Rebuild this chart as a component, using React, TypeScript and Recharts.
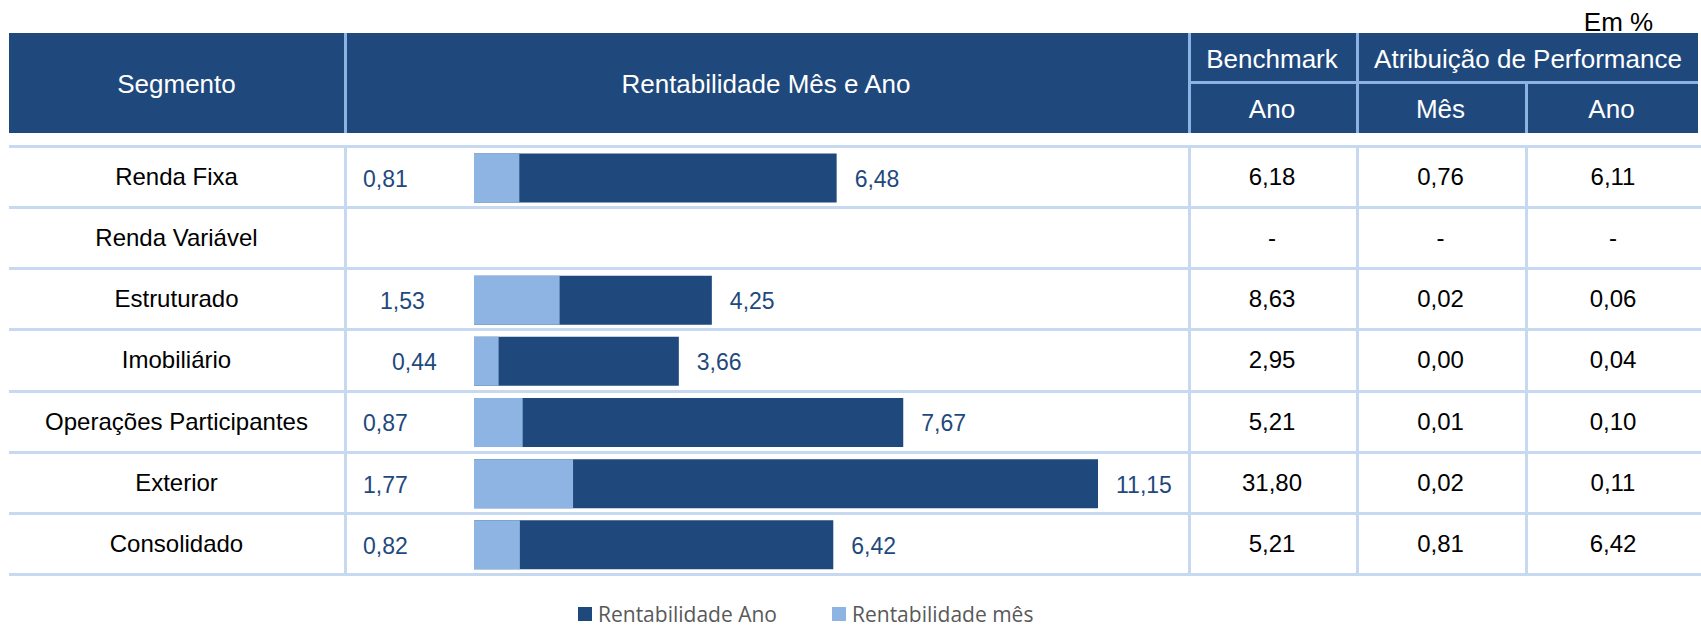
import React from 'react'
import { BarChart, Bar, XAxis, YAxis, Legend, LabelList } from 'recharts'

// segmentos e valores (em %)
const segmentos = ['Renda Fixa', 'Renda Variável', 'Estruturado', 'Imobiliário', 'Operações Participantes', 'Exterior', 'Consolidado']
const rentMes = [0.81, null, 1.53, 0.44, 0.87, 1.77, 0.82]
const rentAno = [6.48, null, 4.25, 3.66, 7.67, 11.15, 6.42]
const benchAno = ['6,18', '-', '8,63', '2,95', '5,21', '31,80', '5,21']
const atribMes = ['0,76', '-', '0,02', '0,00', '0,01', '0,02', '0,81']
const atribAno = ['6,11', '-', '0,06', '0,04', '0,10', '0,11', '6,42']

const data = segmentos.map((s, i) => ({ segmento: s, mes: rentMes[i], ano: rentAno[i] }))

const W = 1701
const H = 627
const ESCURO = '#1F497D'
const CLARO = '#8DB4E2'
const LINHA = '#C6D9F1'
const DIV_CAB = '#8DB3E2'
const FONTE = '"Liberation Sans", Arial, sans-serif'

const rowTop = 145
const rowStep = 61.14
const colX = [344, 1188, 1356, 1525]
// deslocamento do rótulo do mês, por linha
const mesNudge: Record<number, number> = { 2: 17, 3: 29 }

const fmt = (v: number) => v.toFixed(2).replace('.', ',')

function Txt({ left, right, cy, size, color, children }: any) {
  return (
    <div style={{ position: 'absolute', left, width: right - left, top: cy - 20, height: 40, display: 'flex', alignItems: 'center', justifyContent: 'center', fontSize: size, color, lineHeight: 1, whiteSpace: 'nowrap' }}>
      {children}
    </div>
  )
}

const mesLabel = (p: any) => {
  if (p.value == null) return null
  const x = p.x ?? p.viewBox?.x
  const y = p.y ?? p.viewBox?.y
  const h = p.height ?? p.viewBox?.height
  const row = Math.round((y + h / 2 - 178) / rowStep)
  return (
    <text x={x - 111 + (mesNudge[row] || 0)} y={y + h / 2 + 1} dominantBaseline="central" textAnchor="start" fontSize={23} fontFamily={FONTE} fill={ESCURO}>
      {fmt(p.value)}
    </text>
  )
}

const anoLabel = (p: any) => {
  if (p.value == null) return null
  const x = p.x ?? p.viewBox?.x
  const y = p.y ?? p.viewBox?.y
  const w = p.width ?? p.viewBox?.width
  const h = p.height ?? p.viewBox?.height
  return (
    <text x={x + w + 18} y={y + h / 2 + 1} dominantBaseline="central" textAnchor="start" fontSize={23} fontFamily={FONTE} fill={ESCURO}>
      {fmt(p.value)}
    </text>
  )
}

const legendX = [578, 832]
const renderLegend = ({ payload }: any) => (
  <div style={{ position: 'relative', width: W, height: 28 }}>
    {(payload || []).map((e: any, i: number) => (
      <div key={e.value} style={{ position: 'absolute', left: legendX[i], top: 0, height: 28, display: 'flex', alignItems: 'center' }}>
        <span style={{ width: 14, height: 14, background: e.color, marginRight: 6, display: 'inline-block' }} />
        <span style={{ fontFamily: '"Open Sans", sans-serif', fontSize: 21, color: '#595959', lineHeight: 1 }}>{e.value}</span>
      </div>
    ))}
  </div>
)

export default function App() {
  return (
    <div style={{ position: 'absolute', left: 0, top: 0, width: W, height: H, background: '#fff', fontFamily: FONTE, overflow: 'hidden' }}>
      <Txt left={1566} right={1671} cy={22} size={26} color="#000">Em %</Txt>

      {/* cabeçalho */}
      <div style={{ position: 'absolute', left: 9, top: 33, width: 1689, height: 100, background: ESCURO }} />
      <div style={{ position: 'absolute', left: colX[0], top: 33, width: 3, height: 100, background: DIV_CAB }} />
      <div style={{ position: 'absolute', left: colX[1], top: 33, width: 3, height: 100, background: DIV_CAB }} />
      <div style={{ position: 'absolute', left: colX[2], top: 33, width: 3, height: 100, background: DIV_CAB }} />
      <div style={{ position: 'absolute', left: colX[3], top: 82, width: 3, height: 51, background: DIV_CAB }} />
      <div style={{ position: 'absolute', left: colX[1], top: 81, width: 1698 - colX[1], height: 3, background: DIV_CAB }} />
      <Txt left={9} right={colX[0]} cy={84} size={26} color="#fff">Segmento</Txt>
      <Txt left={colX[0]} right={colX[1]} cy={84} size={26} color="#fff">Rentabilidade Mês e Ano</Txt>
      <Txt left={colX[1]} right={colX[2]} cy={59} size={26} color="#fff">Benchmark</Txt>
      <Txt left={colX[2]} right={1700} cy={59} size={26} color="#fff">Atribuição de Performance</Txt>
      <Txt left={colX[1]} right={colX[2]} cy={109} size={26} color="#fff">Ano</Txt>
      <Txt left={colX[2]} right={colX[3]} cy={109} size={26} color="#fff">Mês</Txt>
      <Txt left={colX[3]} right={1698} cy={109} size={26} color="#fff">Ano</Txt>

      {/* grade do corpo */}
      {segmentos.concat(['']).map((_, i) => (
        <div key={'h' + i} style={{ position: 'absolute', left: 9, top: rowTop + rowStep * i, width: W - 9, height: 3, background: LINHA }} />
      ))}
      {colX.map((x) => (
        <div key={'v' + x} style={{ position: 'absolute', left: x, top: rowTop, width: 3, height: rowStep * segmentos.length + 3, background: LINHA }} />
      ))}
      {segmentos.map((s, i) => {
        const cy = rowTop + rowStep * i + 32
        return (
          <React.Fragment key={s}>
            <Txt left={9} right={colX[0]} cy={cy} size={24} color="#000">{s}</Txt>
            <Txt left={colX[1]} right={colX[2]} cy={cy} size={24} color="#000">{benchAno[i]}</Txt>
            <Txt left={colX[2]} right={colX[3]} cy={cy} size={24} color="#000">{atribMes[i]}</Txt>
            <Txt left={colX[3]} right={W} cy={cy} size={24} color="#000">{atribAno[i]}</Txt>
          </React.Fragment>
        )
      })}

      {/* barras */}
      <div style={{ position: 'absolute', left: 0, top: 0 }}>
        <BarChart width={W} height={H} data={data} layout="vertical" barGap={-49} margin={{ top: 147.43, right: 555.43, bottom: 51.59, left: 474 }}>
          <XAxis type="number" domain={[0, 12]} hide />
          <YAxis type="category" dataKey="segmento" hide />
          <Legend layout="horizontal" verticalAlign="middle" align="center" wrapperStyle={{ left: 0, top: 600, width: W, height: 28 }} content={renderLegend} />
          <Bar dataKey="ano" name="Rentabilidade Ano" fill={ESCURO} barSize={49} isAnimationActive={false}>
            <LabelList dataKey="ano" content={anoLabel} />
          </Bar>
          <Bar dataKey="mes" name="Rentabilidade mês" fill={CLARO} barSize={49} isAnimationActive={false}>
            <LabelList dataKey="mes" content={mesLabel} />
          </Bar>
        </BarChart>
      </div>
    </div>
  )
}
